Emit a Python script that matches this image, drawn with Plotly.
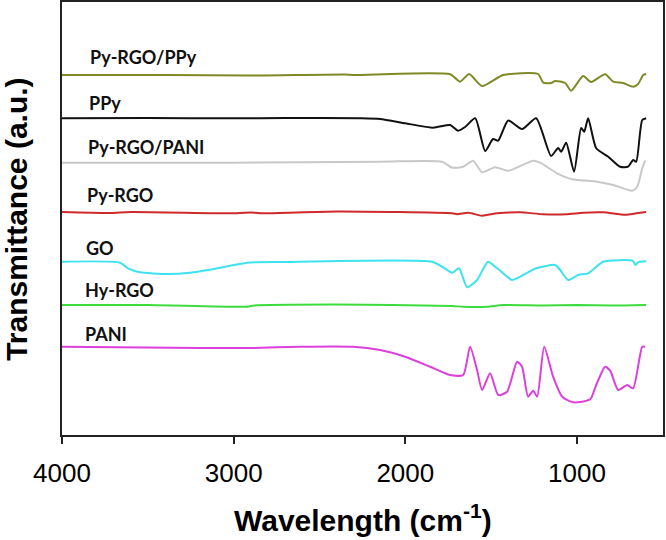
import plotly.graph_objects as go

# ---------------- data (wavenumber cm^-1, transmittance a.u. with vertical offsets) ----------------
series_names = ["Py-RGO/PPy", "PPy", "Py-RGO/PANI", "Py-RGO", "GO", "Hy-RGO", "PANI"]

pyrgo_ppy_wn = [4000, 3400, 2900, 2350, 2300, 1739, 1681, 1628, 1553, 1430, 1226, 1197, 1151, 1127,
                1069, 1034, 964, 918, 836, 789, 731, 673, 644, 614, 597]
pyrgo_ppy_t = [360, 360, 359.5, 360.5, 360, 360.7, 353.3, 361, 349, 360, 361, 352.3, 352, 354,
               352, 344.3, 359, 353, 360.7, 353.3, 352, 348.3, 351, 360, 361]

ppy_wn = [4000, 3500, 3000, 2700, 2264, 2147, 2000, 1838, 1739, 1693, 1652, 1593, 1535, 1489, 1459,
          1401, 1320, 1238, 1151, 1110, 1092, 1063, 1017, 976, 958, 935, 888, 818, 749, 702, 673,
          655, 620, 597]
ppy_t = [316.7, 317, 316.7, 317, 316.7, 316, 311.7, 307.3, 310, 304.3, 308, 316.7, 284, 296, 294.3,
         314.5, 306, 316.7, 279, 287, 283.3, 292.3, 263.3, 307, 303.3, 316.7, 286.7, 278.3, 268.3,
         268.3, 275, 273.3, 315, 316.7]

pyrgo_pani_wn = [4000, 3000, 2147, 1786, 1727, 1663, 1605, 1553, 1477, 1401, 1255, 1215, 1116, 1028,
                 883, 789, 679, 649, 620, 603]
pyrgo_pani_t = [272.3, 272.3, 273.3, 273.3, 267.3, 268.3, 274.3, 262.7, 267.7, 264.3, 274.3, 272.3,
                261.7, 255.7, 253.3, 250, 244.3, 248.3, 266.7, 274.3]

pyrgo_wn = [4000, 3720, 3600, 2980, 2900, 2846, 2400, 1727, 1698, 1634, 1553, 1465, 1331, 1197,
            1063, 964, 848, 719, 655, 597]
pyrgo_t = [223, 222, 223, 221.7, 222.5, 221.7, 223.5, 221.7, 220.7, 222.3, 219.3, 221.7, 222.7,
           220.7, 220.7, 222.3, 222.7, 220.3, 221.7, 223]

go_wn = [4000, 3662, 3615, 3545, 3388, 3254, 3097, 2922, 2730, 1844, 1786, 1727, 1687, 1640, 1582,
         1518, 1465, 1407, 1378, 1331, 1238, 1127, 1098, 1052, 993, 935, 848, 673, 661, 644, 597]
go_t = [173.3, 172.3, 166.7, 162.7, 161, 162.3, 166.7, 172.3, 173, 173.3, 168.3, 162.3, 166.7,
        147.7, 155, 173.3, 166.7, 158.3, 155, 158.3, 166.7, 170, 165, 155, 160, 161.7, 173.3, 174,
        170, 172.7, 173.7]

hyrgo_wn = [4000, 3500, 2920, 2880, 2400, 1727, 1663, 1523, 1430, 1200, 1000, 800, 597]
hyrgo_t = [130, 130, 128.3, 129.5, 130.5, 129, 128.3, 128.3, 130, 129.5, 130, 129.5, 130]

pani_wn = [4000, 3196, 2887, 2613, 2304, 2147, 2001, 1856, 1739, 1663, 1623, 1582, 1553, 1506, 1459,
           1407, 1349, 1320, 1285, 1255, 1232, 1191, 1139, 1086, 1022, 923, 888, 836, 807, 760,
           708, 673, 620, 603]
pani_t = [88.3, 87, 87, 88.3, 88.3, 85, 78.3, 68.3, 60, 60, 88.3, 65, 45, 61.7, 40, 43.3, 73.3,
          68.3, 38.3, 44.3, 38.3, 88.3, 58.3, 38.3, 32.7, 35.7, 50, 68.3, 64.3, 45, 50, 46.7, 88.3,
          88.3]

x_tick_vals = [4000, 3000, 2000, 1000]
x_tick_text = ["4000", "3000", "2000", "1000"]

# ---------------- styling ----------------
series_x = [pyrgo_ppy_wn, ppy_wn, pyrgo_pani_wn, pyrgo_wn, go_wn, hyrgo_wn, pani_wn]
series_y = [pyrgo_ppy_t, ppy_t, pyrgo_pani_t, pyrgo_t, go_t, hyrgo_t, pani_t]
colors = ["#7f8a26", "#111111", "#c8c8c8", "#cf2a2a", "#3de2ee", "#3ddc3d", "#dd3fdd"]
label_pos = [(3849, 378), (3854, 332), (3860, 288), (3866, 240), (3872, 187), (3878, 145), (3878, 101)]

fig = go.Figure()
for name, xs, ys, c in zip(series_names, series_x, series_y, colors):
    fig.add_trace(go.Scatter(x=xs, y=ys, mode="lines", name=name,
                             line=dict(color=c, width=2, shape="spline", smoothing=0.6),
                             showlegend=False, hoverinfo="skip"))

for name, (lx, ly) in zip(series_names, label_pos):
    fig.add_annotation(x=lx, y=ly, xref="x", yref="y", text="<b>%s</b>" % name,
                       showarrow=False, xanchor="left", yanchor="middle",
                       font=dict(family="Lato", size=18, color="#111111"))

fig.add_annotation(x=0.501, y=-0.192, xref="paper", yref="paper",
                   text="<b>Wavelength (cm<sup>-1</sup>)</b>", showarrow=False,
                   xanchor="center", yanchor="middle",
                   font=dict(family="Liberation Sans, Arial", size=30, color="#000000"))
fig.add_annotation(x=-0.075, y=0.499, xref="paper", yref="paper",
                   text="<b>Transmittance (a.u.)</b>", showarrow=False, textangle=-90,
                   xanchor="center", yanchor="middle",
                   font=dict(family="Liberation Sans, Arial", size=30, color="#000000"))

fig.update_layout(
    template="none",
    width=666, height=540,
    margin=dict(l=62, r=3, t=2, b=105, autoexpand=False),
    paper_bgcolor="white", plot_bgcolor="white",
    xaxis=dict(range=[4000, 499], tickvals=x_tick_vals, ticktext=x_tick_text,
               ticks="outside", ticklen=7, tickwidth=1.5, tickcolor="#222222",
               showline=True, linecolor="#222222", linewidth=1.5, mirror=True,
               showgrid=False, zeroline=False, ticklabelstandoff=7, automargin=False,
               tickfont=dict(family="Liberation Sans, Arial", size=26, color="#000000")),
    yaxis=dict(range=[0, 433], showticklabels=False, ticks="", automargin=False,
               showline=True, linecolor="#222222", linewidth=1.5, mirror=True,
               showgrid=False, zeroline=False),
)

fig.write_html("out.html", config={"displayModeBar": False},
               post_script="document.body.style.margin='0';document.body.style.overflow='hidden';")
